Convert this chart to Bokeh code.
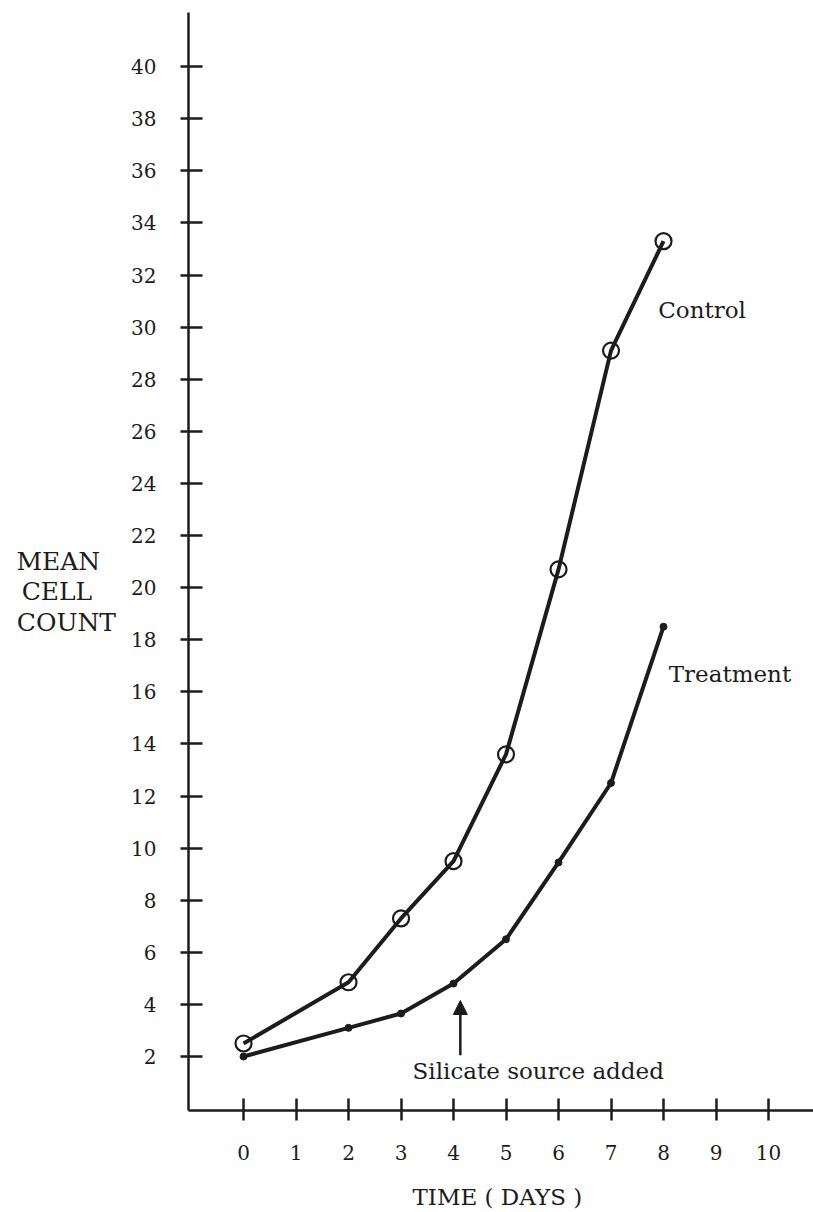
from bokeh.plotting import figure
from bokeh.models import Range1d, FixedTicker, Label, Arrow, NormalHead
from bokeh.embed import file_html
from bokeh.resources import INLINE

days = [0, 2, 3, 4, 5, 6, 7, 8]
control = [2.5, 4.85, 7.3, 9.5, 13.6, 20.7, 29.1, 33.3]
treatment = [2.0, 3.1, 3.65, 4.8, 6.5, 9.45, 12.5, 18.5]
x_ticks = [0, 1, 2, 3, 4, 5, 6, 7, 8, 9, 10]
y_ticks = list(range(2, 41, 2))
silicate_day = 4.13
x_title = "TIME  ( DAYS )"
y_title = "\n\nMEAN  \nCELL   \nCOUNT"

FONT = "DejaVu Serif"
INK = "#1c1c1c"

p = figure(width=813, height=1212, output_backend="svg", toolbar_location=None,
           x_range=Range1d(-1.048, 10.857), y_range=Range1d(-0.073, 42.08),
           min_border_left=188, min_border_right=0, min_border_top=12, min_border_bottom=102)
p.grid.visible = False
p.outline_line_color = None
p.background_fill_color = "white"
p.border_fill_color = "white"

for ax in (p.xaxis[0], p.yaxis[0]):
    ax.axis_line_width = 2.5
    ax.axis_line_color = INK
    ax.major_tick_line_width = 2.5
    ax.major_tick_line_color = INK
    ax.minor_tick_line_color = None
    ax.major_label_text_font = FONT
    ax.major_label_text_font_size = "20px"
    ax.major_label_text_color = INK
    ax.axis_label_text_font = FONT
    ax.axis_label_text_font_style = "normal"
    ax.axis_label_text_color = INK

p.xaxis.ticker = FixedTicker(ticks=x_ticks)
p.yaxis.ticker = FixedTicker(ticks=y_ticks)
p.xaxis.major_tick_in = 12
p.xaxis.major_tick_out = 10
p.xaxis.major_label_standoff = 24
p.yaxis.major_tick_in = 14
p.yaxis.major_tick_out = 8
p.yaxis.major_label_standoff = 24

p.xaxis.axis_label = x_title
p.xaxis.axis_label_text_font_size = "23px"
p.xaxis.axis_label_standoff = 21

p.yaxis.axis_label = y_title
p.yaxis.axis_label_orientation = "horizontal"
p.yaxis.axis_label_text_font_size = "25px"
p.yaxis.axis_label_text_line_height = 1.05
p.yaxis.axis_label_standoff = 12

p.line(days, control, line_width=4, line_color=INK)
p.line(days, treatment, line_width=4, line_color=INK)
p.scatter(days, control, marker="circle", size=16, fill_color=None, line_color=INK, line_width=2.2)
p.scatter(days, treatment, marker="circle", size=7, fill_color=INK, line_color=INK)

p.add_layout(Label(x=7.9, y=30.64, text="Control", text_font=FONT, text_font_size="23px",
                   text_color=INK, text_baseline="middle", text_align="left"))
p.add_layout(Label(x=8.1, y=16.7, text="Treatment", text_font=FONT, text_font_size="23px",
                   text_color=INK, text_baseline="middle", text_align="left"))
p.add_layout(Label(x=3.22, y=1.45, text="Silicate source added", text_font=FONT,
                   text_font_size="23px", text_color=INK, text_baseline="middle", text_align="left"))
p.add_layout(Arrow(end=NormalHead(size=14, fill_color=INK, line_color=INK),
                   x_start=silicate_day, y_start=2.05, x_end=silicate_day, y_end=4.15,
                   line_width=2.5, line_color=INK))

open("out.html", "w").write(file_html(p, INLINE))
